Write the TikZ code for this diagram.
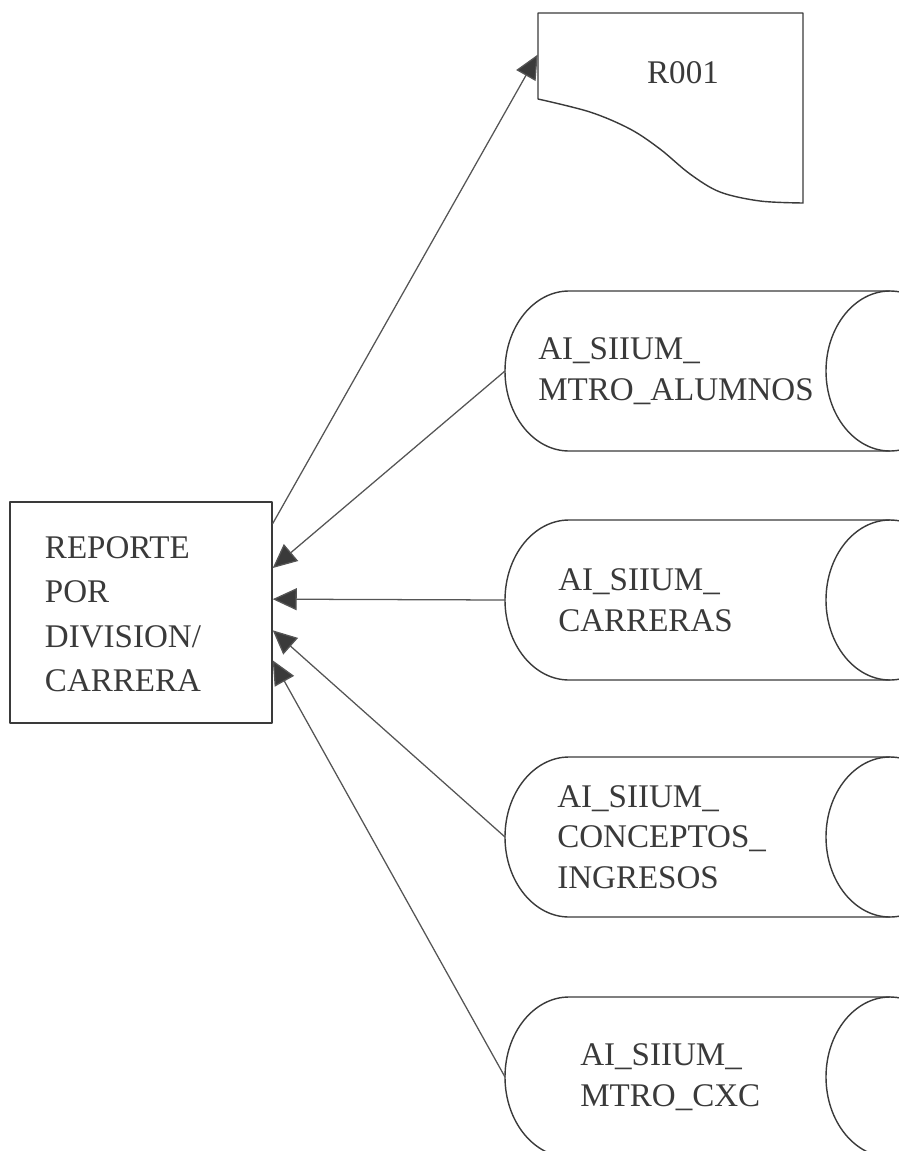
\documentclass[tikz,border=0pt]{standalone}
\usepackage{fontspec}
\setmainfont{Liberation Serif}
\usetikzlibrary{arrows.meta,calc,positioning}
\definecolor{scanink}{HTML}{3A3A3A}
\definecolor{scanline}{HTML}{555555}
\tikzset{
every picture/.style={line cap=round,line join=round},
scan text/.style={font=\fontsize{23.5}{29}\selectfont, text=scanink, align=left, inner sep=0pt},
proc box/.style={
  draw=scanink,
  line width=1pt,
  minimum width=6.55cm,
  minimum height=5.525cm,
  text width=4.8cm,
  align=left,
  font=\fontsize{23.5}{31.3}\selectfont,
  text=scanink
},
store node/.style={minimum width=11.225cm, minimum height=4cm, anchor=west, inner sep=0pt},
doc node/.style={minimum width=6.625cm, minimum height=4.75cm, inner sep=0pt},
shape outline/.style={draw=scanink, line width=1pt},
data flow/.style={
  draw=scanline,
  line width=0.9pt,
  -{Triangle[length=6mm,width=5.5mm,fill=scanink]}
}
}
\begin{document}
\begin{tikzpicture}[x=0.025cm,y=-0.025cm]
\path[use as bounding box] (0,0) rectangle (899,1151);
\clip (0,0) rectangle (899,1151);
% process box
\node[proc box] (reporte) at (141,612.5) {\rule{0pt}{18pt}REPORTE\\POR\\DIVISION/\\CARRERA};
% printed report R001
\node[doc node] (r001) at (670.5,108) {};
\draw[shape outline] (538,99) -- (538,13) -- (803,13) -- (803,203) -- plot[smooth,tension=0.55] coordinates {(803,203) (760,201) (720,192) (690,174) (660,149) (630,129) (590,112) (538,99)};
\node[scan text] (r001-text) at (683,73) {R001};
% data stores
\foreach \name/\ypos/\dx/\txt in {alumnos/371/33/{AI\_SIIUM\_\\MTRO\_ALUMNOS},carreras/600/53/{AI\_SIIUM\_\\CARRERAS},conceptos/837/52/{AI\_SIIUM\_\\CONCEPTOS\_\\INGRESOS},cxc/1077/75/{AI\_SIIUM\_\\MTRO\_CXC}} {
\node[store node] (\name) at (505,\ypos) {};
\draw[shape outline, shift={(\name.west)}] (385,-80) -- (64,-80) .. controls (28.7,-80) and (0,-44.2) .. (0,0) .. controls (0,44.2) and (28.7,80) .. (64,80) -- (385,80);
\draw[shape outline, shift={(\name.west)}] (385,-80) .. controls (349.7,-80) and (321,-44.2) .. (321,0) .. controls (321,44.2) and (349.7,80) .. (385,80) .. controls (420.3,80) and (449,44.2) .. (449,0) .. controls (449,-44.2) and (420.3,-80) .. (385,-80);
\node[scan text,anchor=west] (\name-text) at ($(\name.west)+(\dx,0)$) {\txt};
}
% flows
\draw[data flow] ($(reporte.north east)!0.1!(reporte.south east)$) -- ($(r001.north west)!0.22!(r001.south west)$);
\foreach \name/\pos in {alumnos/0.3,carreras/0.44,conceptos/0.58,cxc/0.715} {
\draw[data flow] (\name.west) -- ($(reporte.north east)!\pos!(reporte.south east)$);
}
\end{tikzpicture}
\end{document}
